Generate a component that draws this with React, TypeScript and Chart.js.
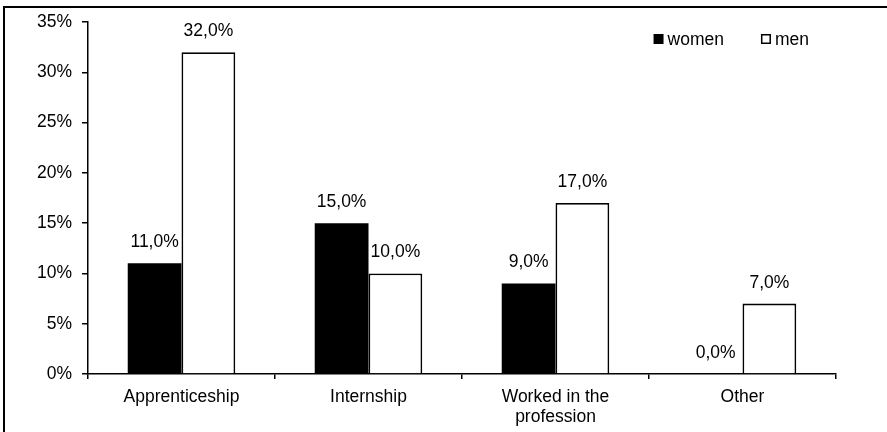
import React, { useEffect, useRef } from "react";
import { Chart, registerables } from "chart.js";

Chart.register(...registerables);

const categories: (string | string[])[] = [
  "Apprenticeship",
  "Internship",
  ["Worked in the", "profession"],
  "Other",
];
const women: number[] = [11, 15, 9, 0];
const men: number[] = [32, 10, 17, 7];
const yTicks: number[] = [0, 5, 10, 15, 20, 25, 30, 35];
const seriesNames: string[] = ["women", "men"];

const FONT = "Liberation Sans, Arial, sans-serif";
const FS = 17.5;

const fmt = (v: number) => v.toFixed(1).replace(".", ",") + "%";

const labelPlugin = {
  id: "barLabels",
  afterDatasetsDraw(chart: any) {
    const ctx = chart.ctx;
    ctx.save();
    ctx.font = `${FS}px ${FONT}`;
    ctx.fillStyle = "#000";
    ctx.textAlign = "center";
    ctx.textBaseline = "alphabetic";
    chart.data.datasets.forEach((ds: any, di: number) => {
      const meta = chart.getDatasetMeta(di);
      meta.data.forEach((bar: any, i: number) => {
        ctx.fillText(fmt(ds.data[i]), bar.x, bar.y - 16);
      });
    });
    ctx.restore();
  },
};

const legendPlugin = {
  id: "customLegend",
  afterDraw(chart: any) {
    const ctx = chart.ctx;
    const area = chart.chartArea;
    ctx.save();
    ctx.font = `${FS}px ${FONT}`;
    ctx.textBaseline = "middle";
    ctx.textAlign = "left";
    const box = 10;
    const gapBox = 4;
    const gapItem = 37;
    const widths = seriesNames.map((n) => box + gapBox + ctx.measureText(n).width);
    const total = widths.reduce((a, b) => a + b, 0) + gapItem * (seriesNames.length - 1);
    let x = area.right - 27 - total;
    const y = area.top + 17;
    chart.data.datasets.forEach((ds: any, i: number) => {
      if (ds.backgroundColor === "#000000") {
        ctx.fillStyle = "#000";
        ctx.fillRect(x, y - box / 2, box, box);
      } else {
        ctx.fillStyle = "#fff";
        ctx.fillRect(x, y - box / 2, box, box);
        ctx.strokeStyle = "#000";
        ctx.lineWidth = 1.5;
        ctx.strokeRect(x + 0.75, y - box / 2 + 0.75, box - 1.5, box - 1.5);
      }
      ctx.fillStyle = "#000";
      ctx.fillText(seriesNames[i], x + box + gapBox, y + 1);
      x += widths[i] + gapItem;
    });
    ctx.restore();
  },
};

export default function App() {
  const ref = useRef<HTMLCanvasElement>(null);
  useEffect(() => {
    document.body.style.margin = "0";
    const chart = new Chart(ref.current!, {
      type: "bar",
      data: {
        labels: categories,
        datasets: [
          {
            label: seriesNames[0],
            data: women,
            backgroundColor: "#000000",
            borderColor: "#000000",
            borderWidth: 0,
          },
          {
            label: seriesNames[1],
            data: men,
            backgroundColor: "#ffffff",
            borderColor: "#000000",
            borderWidth: 1.8,
          },
        ],
      },
      options: {
        responsive: false,
        animation: false,
        devicePixelRatio: 1,
        layout: { padding: { left: 0, right: 51, top: 22, bottom: 0 } },
        plugins: {
          legend: { display: false },
          tooltip: { enabled: false },
        },
        datasets: {
          bar: { categoryPercentage: 0.575, barPercentage: 1 },
        },
        scales: {
          x: {
            grid: {
              display: true,
              drawOnChartArea: false,
              drawTicks: true,
              tickLength: 5,
              color: "#000",
              lineWidth: 1.5,
              offset: true,
            },
            border: { display: true, color: "#000", width: 1.5 },
            ticks: {
              color: "#000",
              font: { family: FONT, size: FS, lineHeight: 1.15 },
              padding: 8,
              maxRotation: 0,
              autoSkip: false,
            },
            afterFit(scale: any) {
              scale.height = 58;
            },
          },
          y: {
            min: 0,
            max: 35,
            afterBuildTicks(scale: any) {
              scale.ticks = yTicks.map((v) => ({ value: v }));
            },
            grid: {
              display: true,
              drawOnChartArea: false,
              drawTicks: true,
              tickLength: 6,
              color: "#000",
              lineWidth: 1.5,
            },
            border: { display: true, color: "#000", width: 1.5 },
            ticks: {
              color: "#000",
              font: { family: FONT, size: FS },
              padding: 10,
              callback: (v: any) => `${v}%`,
            },
            afterFit(scale: any) {
              scale.width = 88;
            },
          },
        },
      },
      plugins: [labelPlugin, legendPlugin],
    });
    return () => chart.destroy();
  }, []);

  return (
    <div style={{ position: "relative", width: 887, height: 432, overflow: "hidden", background: "#fff" }}>
      <div
        style={{
          position: "absolute",
          left: 3,
          top: 6,
          width: 900,
          height: 440,
          borderLeft: "2px solid #000",
          borderTop: "2px solid #000",
        }}
      />
      <canvas ref={ref} width={887} height={432} style={{ position: "absolute", left: 0, top: 0 }} />
    </div>
  );
}
